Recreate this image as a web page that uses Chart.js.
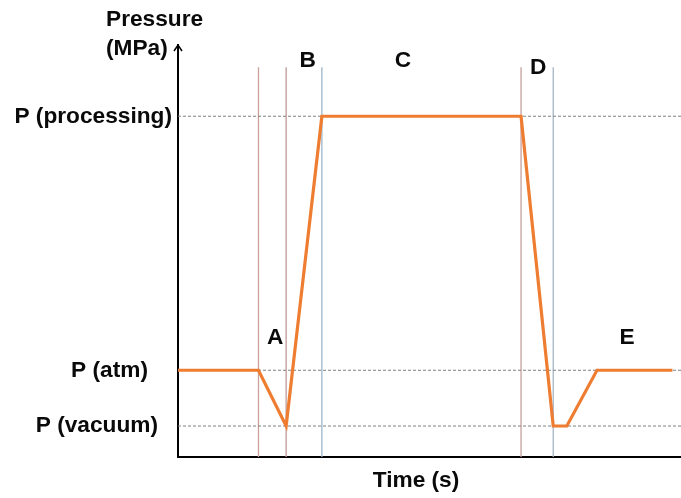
<!DOCTYPE html>
<html>
<head>
<meta charset="utf-8">
<script src="https://cdn.jsdelivr.net/npm/chart.js@4"></script>
<style>
  html, body { margin: 0; padding: 0; background: #fff; }
  #wrap { width: 681px; height: 498px; }
</style>
</head>
<body>
<div id="wrap"><canvas id="pressureChart"></canvas></div>
<script>
// process profile (arbitrary time / pressure units)
const timeS = [0, 16, 21.5, 28.6, 68.2, 74.6, 77.3, 83.3, 98.3];
const pressure = [1.4, 1.4, 0.5, 5.5, 5.5, 0.5, 0.5, 1.4, 1.4];

// pressure levels on the y axis
const levelNames = ["P (vacuum)", "P (atm)", "P (processing)"];
const levelValues = [0.5, 1.4, 5.5];

// phase boundaries and letters
const phaseTimes = [16, 21.5, 28.6, 68.2, 74.6];
const phaseLetters = ["A", "B", "C", "D", "E"];
const letterTimes = [19.3, 25.8, 44.7, 71.6, 89.3];
const letterLevels = [1.92, 6.39, 6.39, 6.29, 1.92];

const X_MAX = 100, Y_MAX = 6.65, LINE_TOP = 6.29;
const FONT = "bold 22.7px 'Liberation Sans', Arial, sans-serif";

// colours for the boundary lines (reddish / bluish)
const boundaryColors = ["#caa29b", "#c09a96", "#9bb6cb", "#c6a09a", "#a5b6c4"];
const labelRight = [158, 148, 172];

const datasets = [
  {
    data: timeS.map((t, i) => ({ x: t, y: pressure[i] })),
    borderColor: "#ee7d31",
    borderWidth: 3.2,
    pointRadius: 0,
    tension: 0,
  },
];
levelValues.forEach((v) => {
  datasets.push({
    data: [{ x: 0, y: v }, { x: X_MAX, y: v }],
    borderColor: "#7f8082",
    borderWidth: 1,
    borderDash: [3, 2],
    pointRadius: 0,
  });
});
phaseTimes.forEach((t, i) => {
  datasets.push({
    data: [{ x: t, y: 0 }, { x: t, y: LINE_TOP }],
    borderColor: boundaryColors[i],
    borderWidth: 1.3,
    pointRadius: 0,
  });
});

const textPlugin = {
  id: "texts",
  afterDraw(chart) {
    const { ctx, scales: { x, y } } = chart;
    ctx.save();
    ctx.fillStyle = "#0a0a0a";
    ctx.font = FONT;
    ctx.textBaseline = "middle";

    // level labels
    ctx.textAlign = "right";
    levelNames.forEach((n, i) => {
      ctx.fillText(n, labelRight[i], y.getPixelForValue(levelValues[i]));
    });

    // phase letters
    ctx.textAlign = "center";
    phaseLetters.forEach((l, i) => {
      ctx.fillText(l, x.getPixelForValue(letterTimes[i]), y.getPixelForValue(letterLevels[i]));
    });

    // axis titles
    ctx.textAlign = "left";
    ctx.fillText("Pressure", 106, 20);
    ctx.fillText("(MPa)", 106, 49);
    ctx.textAlign = "center";
    ctx.fillText("Time (s)", 416, 481);

    // arrow on the y axis
    const ax = x.left, ay = y.top;
    ctx.strokeStyle = "#000";
    ctx.lineWidth = 1.5;
    ctx.beginPath();
    ctx.moveTo(ax - 4, ay + 6);
    ctx.lineTo(ax, ay);
    ctx.lineTo(ax + 4, ay + 6);
    ctx.stroke();
    ctx.restore();
  },
};

new Chart(document.getElementById("pressureChart"), {
  type: "line",
  data: { datasets },
  options: {
    responsive: true,
    maintainAspectRatio: false,
    animation: false,
    layout: { padding: { left: 178, top: 45, right: 0, bottom: 41 } },
    plugins: {
      legend: { display: false },
      tooltip: { enabled: false },
    },
    scales: {
      x: {
        type: "linear",
        min: 0,
        max: X_MAX,
        grid: { display: false },
        ticks: { display: false },
        border: { color: "#000", width: 2 },
        afterFit: (s) => { s.height = 0; },
      },
      y: {
        min: 0,
        max: Y_MAX,
        grid: { display: false },
        ticks: { display: false },
        border: { color: "#000", width: 2 },
        afterFit: (s) => { s.width = 0; },
      },
    },
  },
  plugins: [textPlugin],
});
</script>
</body>
</html>
